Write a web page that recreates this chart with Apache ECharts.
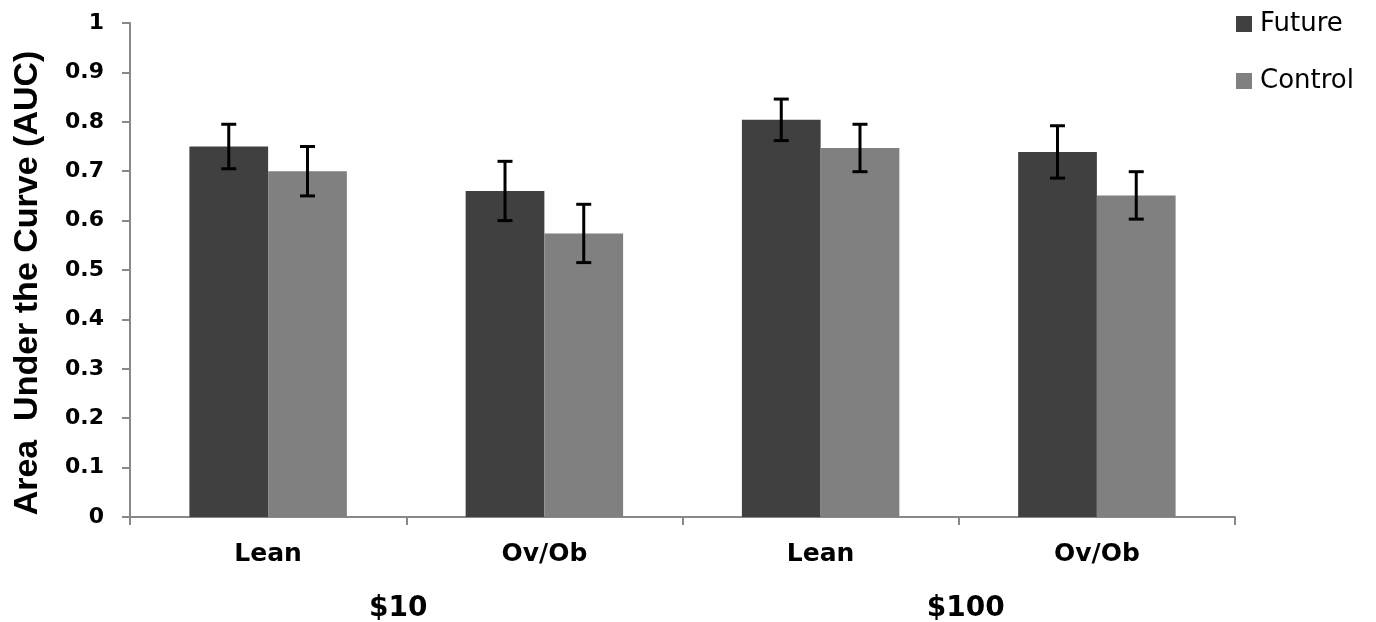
<!DOCTYPE html>
<html>
<head>
<meta charset="utf-8">
<script src="https://cdn.jsdelivr.net/npm/echarts@6/dist/echarts.min.js"></script>
<style>
html,body{margin:0;padding:0;background:#fff;}
#c{width:1376px;height:622px;}
</style>
</head>
<body>
<div id="c"></div>
<script>
var categories = ['Lean', 'Ov/Ob', 'Lean', 'Ov/Ob'];
var groups = ['$10', '$100'];
var seriesNames = ['Future', 'Control'];
var futureValues = [0.75, 0.66, 0.804, 0.739];
var controlValues = [0.70, 0.574, 0.747, 0.651];
var futureErr = [0.045, 0.06, 0.042, 0.053];
var controlErr = [0.05, 0.059, 0.048, 0.048];
var yTicks = [0, 0.1, 0.2, 0.3, 0.4, 0.5, 0.6, 0.7, 0.8, 0.9, 1];

var colors = ['#404040', '#808080'];
var catGap = 0.43;
var boldFont = 'DejaVu Sans, sans-serif';

function errorSeries(name, vals, errs, idx) {
  var data = vals.map(function (v, i) { return [i, v - errs[i], v + errs[i]]; });
  return {
    type: 'custom',
    name: name + ' err',
    xAxisIndex: 0,
    z: 10,
    silent: true,
    data: data,
    renderItem: function (params, api) {
      var i = api.value(0);
      var lo = api.coord([i, api.value(1)]);
      var hi = api.coord([i, api.value(2)]);
      var band = api.size([1, 0])[0];
      var bw = band * (1 - catGap) / 2;
      var x = lo[0] + (idx === 0 ? -bw / 2 : bw / 2);
      var cap = 7.5;
      var st = { stroke: '#000', lineWidth: 3 };
      return {
        type: 'group',
        children: [
          { type: 'line', shape: { x1: x, y1: lo[1], x2: x, y2: hi[1] }, style: st },
          { type: 'line', shape: { x1: x - cap, y1: lo[1], x2: x + cap, y2: lo[1] }, style: st },
          { type: 'line', shape: { x1: x - cap, y1: hi[1], x2: x + cap, y2: hi[1] }, style: st }
        ]
      };
    }
  };
}

var chart = echarts.init(document.getElementById('c'));
chart.setOption({
  animation: false,
  textStyle: { fontFamily: boldFont },
  legend: {
    data: seriesNames,
    orient: 'vertical',
    left: 1231,
    top: 6,
    itemWidth: 16,
    itemHeight: 16,
    itemGap: 31,
    icon: 'rect',
    textStyle: { fontSize: 26, color: '#000', fontFamily: 'DejaVu Sans, sans-serif', padding: [0, 0, 0, 3] }
  },
  grid: { left: 130, right: 141, top: 23, bottom: 105, containLabel: false, outerBoundsMode: 'none' },
  xAxis: [
    {
      type: 'category',
      data: categories,
      axisLine: { lineStyle: { color: '#888', width: 2 } },
      axisTick: { show: true, length: 8, lineStyle: { color: '#888', width: 2 } },
      axisLabel: { fontSize: 25, fontWeight: 'bold', color: '#000', margin: 25, fontFamily: boldFont }
    },
    {
      type: 'category',
      data: groups,
      position: 'bottom',
      axisLine: { show: false },
      axisTick: { show: false },
      axisLabel: {
        fontSize: 28, fontWeight: 'bold', color: '#000', margin: 78, fontFamily: boldFont,
        formatter: function (v, i) { return i === 0 ? '{a|' + v + '}' : '{b|' + v + '}'; },
        rich: {
          a: { fontSize: 28, fontWeight: 'bold', color: '#000', fontFamily: boldFont, padding: [0, 16, 0, 0] },
          b: { fontSize: 28, fontWeight: 'bold', color: '#000', fontFamily: boldFont, padding: [0, 0, 0, 14] }
        }
      }
    }
  ],
  yAxis: {
    type: 'value',
    min: 0,
    max: 1,
    interval: 0.1,
    name: 'Area  Under the Curve (AUC)',
    nameLocation: 'middle',
    nameGap: 85,
    nameTextStyle: { fontSize: 34, fontWeight: 'bold', color: '#000', fontFamily: 'Liberation Sans, Arial, sans-serif', padding: [0, 26, 0, 0] },
    splitLine: { show: false },
    axisLine: { show: true, lineStyle: { color: '#888', width: 2 } },
    axisTick: { show: true, length: 8, lineStyle: { color: '#888', width: 2 } },
    axisLabel: {
      fontSize: 22, fontWeight: 'bold', color: '#000', margin: 26, fontFamily: boldFont,
      formatter: function (v) {
        var r = Math.round(v * 10) / 10;
        return yTicks.indexOf(r) >= 0 ? String(r) : '';
      }
    }
  },
  series: [
    {
      type: 'bar', name: seriesNames[0], data: futureValues,
      itemStyle: { color: colors[0] }, barGap: '0%', barCategoryGap: '43%'
    },
    {
      type: 'bar', name: seriesNames[1], data: controlValues,
      itemStyle: { color: colors[1] }, barGap: '0%', barCategoryGap: '43%'
    },
    errorSeries(seriesNames[0], futureValues, futureErr, 0),
    errorSeries(seriesNames[1], controlValues, controlErr, 1)
  ]
});
</script>
</body>
</html>
